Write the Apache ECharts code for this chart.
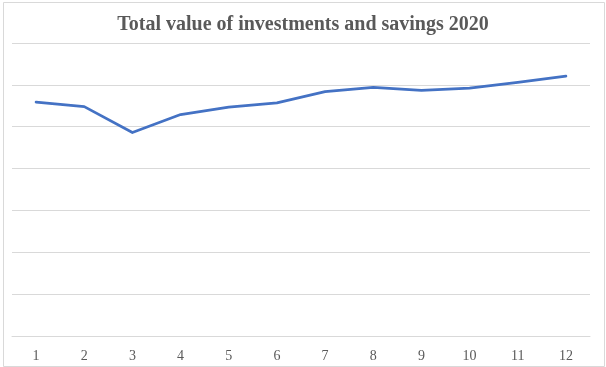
<!DOCTYPE html>
<html>
<head>
<meta charset="utf-8">
<script src="https://cdn.jsdelivr.net/npm/echarts@6/dist/echarts.min.js"></script>
<style>
html,body{margin:0;padding:0;background:#fff;}
#c{position:absolute;left:0;top:0;width:606px;height:367px;}
</style>
</head>
<body>
<div id="c"></div>
<script>
var titleText = 'Total value of investments and savings 2020';
var months = ['1','2','3','4','5','6','7','8','9','10','11','12'];
var totals = [279.5, 274, 243, 264.5, 273.5, 278.5, 292, 297, 293.5, 296, 303, 310.5];
var yMin = 0, yMax = 350, yStep = 50;

var chart = echarts.init(document.getElementById('c'), null, {renderer:'canvas'});
chart.setOption({
  animation: false,
  backgroundColor: '#fff',
  title: {
    text: titleText,
    left: 'center',
    top: 10,
    textStyle: {fontFamily: 'Liberation Serif', fontWeight: 'bold', fontSize: 20, color: '#595959'}
  },
  graphic: [{
    type: 'rect', left: 1, top: 0,
    shape: {width: 601, height: 364},
    style: {fill: 'none', stroke: '#d9d9d9', lineWidth: 1}
  }],
  grid: {left: 12, right: 16, top: 43, bottom: 31, containLabel: false},
  xAxis: {
    type: 'category',
    data: months,
    boundaryGap: true,
    axisLine: {show: true, lineStyle: {color: '#d9d9d9'}},
    axisTick: {show: false},
    axisLabel: {fontFamily: 'Liberation Serif', fontSize: 14, color: '#595959', margin: 13}
  },
  yAxis: {
    type: 'value',
    min: yMin, max: yMax, interval: yStep,
    axisLine: {show: false},
    axisTick: {show: false},
    axisLabel: {show: false},
    splitLine: {lineStyle: {color: '#d9d9d9', width: 1}}
  },
  series: [{
    type: 'line',
    data: totals,
    symbol: 'none',
    lineStyle: {color: '#4472c4', width: 2.75, cap: 'round', join: 'round'}
  }]
});
</script>
</body>
</html>
